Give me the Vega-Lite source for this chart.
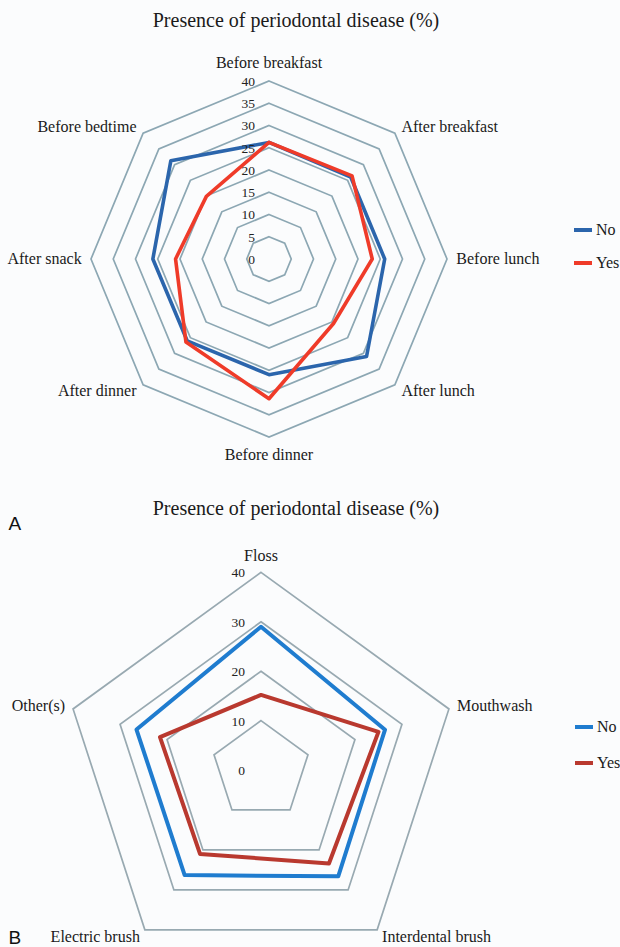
{
  "$schema": "https://vega.github.io/schema/vega-lite/v6.json",
  "background": "#fbfcfd",
  "padding": 0,
  "bounds": "flush",
  "spacing": 0,
  "config": {"view": {"stroke": null}, "font": "Liberation Serif"},
  "resolve": {
    "scale": {"color": "independent", "x": "independent", "y": "independent"},
    "legend": {"color": "independent"}
  },
  "datasets": {
    "timing": [
      {"moment": "Before breakfast", "k": 0, "group": "No", "pct": 26.2},
      {"moment": "After breakfast", "k": 1, "group": "No", "pct": 26.0},
      {"moment": "Before lunch", "k": 2, "group": "No", "pct": 26.0},
      {"moment": "After lunch", "k": 3, "group": "No", "pct": 31.0},
      {"moment": "Before dinner", "k": 4, "group": "No", "pct": 26.0},
      {"moment": "After dinner", "k": 5, "group": "No", "pct": 26.0},
      {"moment": "After snack", "k": 6, "group": "No", "pct": 26.1},
      {"moment": "Before bedtime", "k": 7, "group": "No", "pct": 31.2},
      {"moment": "Before breakfast", "k": 0, "group": "Yes", "pct": 26.2},
      {"moment": "After breakfast", "k": 1, "group": "Yes", "pct": 26.4},
      {"moment": "Before lunch", "k": 2, "group": "Yes", "pct": 23.2},
      {"moment": "After lunch", "k": 3, "group": "Yes", "pct": 20.5},
      {"moment": "Before dinner", "k": 4, "group": "Yes", "pct": 31.4},
      {"moment": "After dinner", "k": 5, "group": "Yes", "pct": 26.4},
      {"moment": "After snack", "k": 6, "group": "Yes", "pct": 21.0},
      {"moment": "Before bedtime", "k": 7, "group": "Yes", "pct": 19.9}
    ],
    "hygiene": [
      {"tool": "Floss", "k": 0, "group": "No", "pct": 29.0},
      {"tool": "Mouthwash", "k": 1, "group": "No", "pct": 26.4},
      {"tool": "Interdental brush", "k": 2, "group": "No", "pct": 26.6},
      {"tool": "Electric brush", "k": 3, "group": "No", "pct": 26.3},
      {"tool": "Other(s)", "k": 4, "group": "No", "pct": 26.5},
      {"tool": "Floss", "k": 0, "group": "Yes", "pct": 15.2},
      {"tool": "Mouthwash", "k": 1, "group": "Yes", "pct": 25.0},
      {"tool": "Interdental brush", "k": 2, "group": "Yes", "pct": 23.4},
      {"tool": "Electric brush", "k": 3, "group": "Yes", "pct": 21.0},
      {"tool": "Other(s)", "k": 4, "group": "Yes", "pct": 21.5}
    ],
    "ringsA": [
      {"level": 0, "k": [0, 1, 2, 3, 4, 5, 6, 7]},
      {"level": 5, "k": [0, 1, 2, 3, 4, 5, 6, 7]},
      {"level": 10, "k": [0, 1, 2, 3, 4, 5, 6, 7]},
      {"level": 15, "k": [0, 1, 2, 3, 4, 5, 6, 7]},
      {"level": 20, "k": [0, 1, 2, 3, 4, 5, 6, 7]},
      {"level": 25, "k": [0, 1, 2, 3, 4, 5, 6, 7]},
      {"level": 30, "k": [0, 1, 2, 3, 4, 5, 6, 7]},
      {"level": 35, "k": [0, 1, 2, 3, 4, 5, 6, 7]},
      {"level": 40, "k": [0, 1, 2, 3, 4, 5, 6, 7]}
    ],
    "ringsB": [
      {"level": 0, "k": [0, 1, 2, 3, 4]},
      {"level": 10, "k": [0, 1, 2, 3, 4]},
      {"level": 20, "k": [0, 1, 2, 3, 4]},
      {"level": 30, "k": [0, 1, 2, 3, 4]},
      {"level": 40, "k": [0, 1, 2, 3, 4]}
    ]
  },
  "vconcat": [
    {
      "width": 620,
      "height": 488,
      "title": {
        "text": "Presence of periodontal disease (%)",
        "frame": "group",
        "anchor": "middle",
        "offset": -47,
        "dx": -14,
        "baseline": "alphabetic",
        "font": "Liberation Serif",
        "fontSize": 20,
        "fontWeight": "normal",
        "color": "#1a1a1a"
      },
      "encoding": {
        "x": {
          "field": "px", "type": "quantitative",
          "scale": {"domain": [-60.449, 78.876], "nice": false, "zero": false},
          "axis": {
            "title": "A", "orient": "bottom", "labels": false, "ticks": false, "domain": false, "grid": false,
            "titleFont": "Liberation Sans", "titleFontSize": 19, "titleFontWeight": "normal", "titleColor": "#111111",
            "titleAlign": "left", "titleAnchor": "start", "titleBaseline": "middle", "titleX": 8, "titleY": 35
          }
        },
        "y": {
          "field": "py", "type": "quantitative",
          "scale": {"domain": [-51.4607, 58.2022], "nice": false, "zero": false},
          "axis": null
        }
      },
      "layer": [
        {
          "data": {"name": "ringsA"},
          "transform": [
            {"filter": "datum.level > 0"},
            {"flatten": ["k"]},
            {"calculate": "datum.level * sin(datum.k * PI / 4)", "as": "px"},
            {"calculate": "datum.level * cos(datum.k * PI / 4)", "as": "py"}
          ],
          "mark": {"type": "line", "interpolate": "linear-closed", "stroke": "#8ca7b3", "strokeWidth": 1.7},
          "encoding": {"detail": {"field": "level"}, "order": {"field": "k"}}
        },
        {
          "data": {"name": "timing"},
          "transform": [
            {"calculate": "datum.pct * sin(datum.k * PI / 4)", "as": "px"},
            {"calculate": "datum.pct * cos(datum.k * PI / 4)", "as": "py"}
          ],
          "mark": {"type": "line", "interpolate": "linear-closed", "strokeWidth": 3.6, "strokeJoin": "round"},
          "encoding": {
            "order": {"field": "k"},
            "color": {
              "field": "group", "type": "nominal",
              "scale": {"domain": ["No", "Yes"], "range": ["#2b65ac", "#ef3b29"]},
              "legend": {
                "title": null, "orient": "none", "legendX": 572, "legendY": 219,
                "symbolType": "stroke", "symbolSize": 324, "symbolStrokeWidth": 4, "symbolOpacity": 1,
                "labelFont": "Liberation Serif", "labelFontSize": 16, "labelColor": "#1a1a1a",
                "labelOffset": 2, "rowPadding": 14
              }
            }
          }
        },
        {
          "data": {"name": "ringsA"},
          "transform": [
            {"calculate": "0", "as": "px"},
            {"calculate": "datum.level", "as": "py"}
          ],
          "mark": {"type": "text", "align": "right", "baseline": "middle", "dx": -14, "dy": 1, "font": "Liberation Serif", "fontSize": 13.5, "color": "#222222"},
          "encoding": {"text": {"field": "level"}}
        },
        {
          "data": {"name": "timing"},
          "transform": [
            {"filter": "datum.group == 'No' && (datum.k == 0 || datum.k == 4)"},
            {"calculate": "44 * sin(datum.k * PI / 4)", "as": "px"},
            {"calculate": "44 * cos(datum.k * PI / 4)", "as": "py"}
          ],
          "mark": {"type": "text", "align": "center", "baseline": "middle", "font": "Liberation Serif", "fontSize": 16, "color": "#1a1a1a"},
          "encoding": {"text": {"field": "moment"}}
        },
        {
          "data": {"name": "timing"},
          "transform": [
            {"filter": "datum.group == 'No' && datum.k >= 1 && datum.k <= 3"},
            {"calculate": "42.1 * sin(datum.k * PI / 4)", "as": "px"},
            {"calculate": "42.1 * cos(datum.k * PI / 4)", "as": "py"}
          ],
          "mark": {"type": "text", "align": "left", "baseline": "middle", "font": "Liberation Serif", "fontSize": 16, "color": "#1a1a1a"},
          "encoding": {"text": {"field": "moment"}}
        },
        {
          "data": {"name": "timing"},
          "transform": [
            {"filter": "datum.group == 'No' && datum.k >= 5"},
            {"calculate": "42.1 * sin(datum.k * PI / 4)", "as": "px"},
            {"calculate": "42.1 * cos(datum.k * PI / 4)", "as": "py"}
          ],
          "mark": {"type": "text", "align": "right", "baseline": "middle", "font": "Liberation Serif", "fontSize": 16, "color": "#1a1a1a"},
          "encoding": {"text": {"field": "moment"}}
        }
      ]
    },
    {
      "width": 620,
      "height": 459,
      "title": {
        "text": "Presence of periodontal disease (%)",
        "frame": "group",
        "anchor": "middle",
        "offset": -47,
        "dx": -14,
        "baseline": "alphabetic",
        "font": "Liberation Serif",
        "fontSize": 20,
        "fontWeight": "normal",
        "color": "#1a1a1a"
      },
      "encoding": {
        "x": {
          "field": "px", "type": "quantitative",
          "scale": {"domain": [-52.834, 72.672], "nice": false, "zero": false},
          "axis": {
            "title": "B", "orient": "bottom", "labels": false, "ticks": false, "domain": false, "grid": false,
            "titleFont": "Liberation Sans", "titleFontSize": 19, "titleFontWeight": "normal", "titleColor": "#111111",
            "titleAlign": "left", "titleAnchor": "start", "titleBaseline": "middle", "titleX": 8, "titleY": -10
          }
        },
        "y": {
          "field": "py", "type": "quantitative",
          "scale": {"domain": [-35.83, 57.085], "nice": false, "zero": false},
          "axis": null
        }
      },
      "layer": [
        {
          "data": {"name": "ringsB"},
          "transform": [
            {"filter": "datum.level > 0"},
            {"flatten": ["k"]},
            {"calculate": "datum.level * sin(datum.k * 2 * PI / 5)", "as": "px"},
            {"calculate": "datum.level * cos(datum.k * 2 * PI / 5)", "as": "py"}
          ],
          "mark": {"type": "line", "interpolate": "linear-closed", "stroke": "#98a9b1", "strokeWidth": 1.7},
          "encoding": {"detail": {"field": "level"}, "order": {"field": "k"}}
        },
        {
          "data": {"name": "hygiene"},
          "transform": [
            {"calculate": "datum.pct * sin(datum.k * 2 * PI / 5)", "as": "px"},
            {"calculate": "datum.pct * cos(datum.k * 2 * PI / 5)", "as": "py"}
          ],
          "mark": {"type": "line", "interpolate": "linear-closed", "strokeWidth": 4, "strokeJoin": "round"},
          "encoding": {
            "order": {"field": "k"},
            "color": {
              "field": "group", "type": "nominal",
              "scale": {"domain": ["No", "Yes"], "range": ["#1f7ccf", "#b9392f"]},
              "legend": {
                "title": null, "orient": "none", "legendX": 573, "legendY": 228,
                "symbolType": "stroke", "symbolSize": 324, "symbolStrokeWidth": 4, "symbolOpacity": 1,
                "labelFont": "Liberation Serif", "labelFontSize": 16, "labelColor": "#1a1a1a",
                "labelOffset": 2, "rowPadding": 17
              }
            }
          }
        },
        {
          "data": {"name": "ringsB"},
          "transform": [
            {"calculate": "0", "as": "px"},
            {"calculate": "datum.level", "as": "py"}
          ],
          "mark": {"type": "text", "align": "right", "baseline": "middle", "dx": -16, "dy": 1, "font": "Liberation Serif", "fontSize": 13.5, "color": "#222222"},
          "encoding": {"text": {"field": "level"}}
        },
        {
          "data": {"name": "hygiene"},
          "transform": [
            {"filter": "datum.group == 'No' && datum.k == 0"},
            {"calculate": "43.3 * sin(datum.k * 2 * PI / 5)", "as": "px"},
            {"calculate": "43.3 * cos(datum.k * 2 * PI / 5)", "as": "py"}
          ],
          "mark": {"type": "text", "align": "center", "baseline": "middle", "font": "Liberation Serif", "fontSize": 16, "color": "#1a1a1a"},
          "encoding": {"text": {"field": "tool"}}
        },
        {
          "data": {"name": "hygiene"},
          "transform": [
            {"filter": "datum.group == 'No' && (datum.k == 1 || datum.k == 2)"},
            {"calculate": "41.7 * sin(datum.k * 2 * PI / 5)", "as": "px"},
            {"calculate": "41.7 * cos(datum.k * 2 * PI / 5)", "as": "py"}
          ],
          "mark": {"type": "text", "align": "left", "baseline": "middle", "font": "Liberation Serif", "fontSize": 16, "color": "#1a1a1a"},
          "encoding": {"text": {"field": "tool"}}
        },
        {
          "data": {"name": "hygiene"},
          "transform": [
            {"filter": "datum.group == 'No' && datum.k >= 3"},
            {"calculate": "41.7 * sin(datum.k * 2 * PI / 5)", "as": "px"},
            {"calculate": "41.7 * cos(datum.k * 2 * PI / 5)", "as": "py"}
          ],
          "mark": {"type": "text", "align": "right", "baseline": "middle", "font": "Liberation Serif", "fontSize": 16, "color": "#1a1a1a"},
          "encoding": {"text": {"field": "tool"}}
        }
      ]
    }
  ]
}
